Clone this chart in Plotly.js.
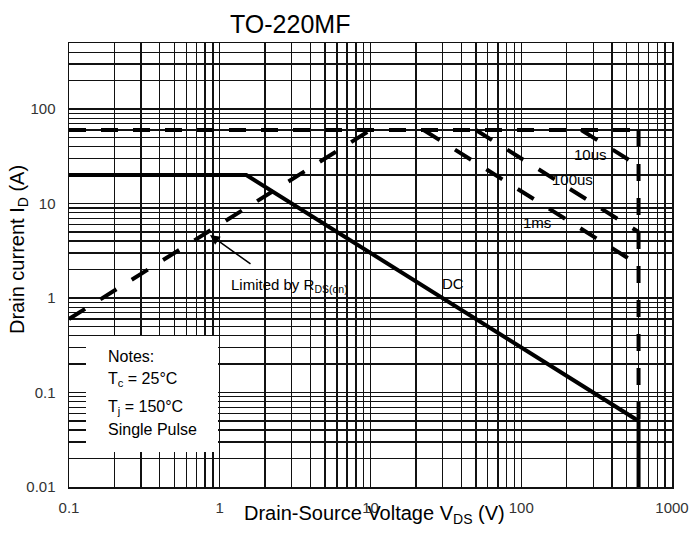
<!DOCTYPE html>
<html>
<head>
<meta charset="utf-8">
<script src="https://cdn.plot.ly/plotly-3.0.1.min.js"></script>
<style>html,body{margin:0;padding:0;background:#fff;}#chart{width:691px;height:533px;}</style>
</head>
<body>
<div id="chart"></div>
<script>
// ---- data (V in volts, I in amps) ----
const pulseLimitV = [0.1, 600];
const pulseLimitI = [60, 60];
const rdsV = [0.1, 10];
const rdsI = [0.6, 60];
const bvV = [600, 600];
const bvI = [60, 0.05];
const dcV = [0.1, 1.5, 600, 600];
const dcI = [20, 20, 0.05, 0.01];
const us10V = [250, 600];
const us10I = [60, 25];
const us100V = [50, 600];
const us100I = [60, 5];
const ms1V = [22.5, 600];
const ms1I = [60, 2.25];

const xDecades = [0.1, 1, 10, 100, 1000];
const xTickLabels = ['0.1', '1', '10', '100', '1000'];
const yDecades = [0.01, 0.1, 1, 10, 100];
const yTickLabels = ['0.01', '0.1', '1', '10', '100'];

function logGrid(decades, labels, maxVal) {
  const vals = [], text = [];
  decades.forEach((d, k) => {
    for (let m = 1; m <= 9; m++) {
      const v = d * m;
      if (v > maxVal * 1.0001) break;
      vals.push(v);
      text.push(m === 1 ? labels[k] : '');
    }
  });
  return {vals, text};
}
const xg = logGrid(xDecades, xTickLabels, 1000);
const yg = logGrid(yDecades, yTickLabels, 500);

const FONT = 'Liberation Sans, Arial, sans-serif';
function tr(x, y, w, dash) {
  return {x: x, y: y, type: 'scatter', mode: 'lines', hoverinfo: 'skip', showlegend: false,
          line: {color: '#000', width: w, dash: dash}};
}
const traces = [
  tr(pulseLimitV, pulseLimitI, 4, '17px,15px'),
  tr(rdsV, rdsI, 4, '19px,18px'),
  tr(bvV, bvI, 4, '17px,17px'),
  tr(us10V, us10I, 4, '19px,18px'),
  tr(us100V, us100I, 4, '19px,18px'),
  tr(ms1V, ms1I, 4, '19px,18px'),
  tr(dcV, dcI, 4, 'solid')
];

// pixel helpers for layout placement (plot area 69..672 x 43..487)
const PL = 69, PW = 603, PB = 487, PH = 444;
const px = p => (p - PL) / PW;
const py = p => (PB - p) / PH;

function txt(text, x, y, size, anchor, extra) {
  return Object.assign({text: text, xref: 'paper', yref: 'paper', x: px(x), y: py(y),
    xanchor: anchor || 'center', yanchor: 'middle', showarrow: false,
    font: {family: FONT, size: size, color: '#000'}}, extra || {});
}

const annotations = [
  txt('TO-220MF', 290, 24, 25),
  txt('Drain-Source Voltage V<sub>DS</sub> (V)', 374, 514, 20),
  txt('Drain current I<sub>D</sub> (A)', 18, 250, 20, 'center', {textangle: -90}),
  txt('Notes:', 106, 356, 16, 'left'),
  txt('T<sub>c</sub> = 25°C', 106, 379, 16, 'left'),
  txt('T<sub>j</sub> = 150°C', 106, 407, 16, 'left'),
  txt('Single Pulse', 106, 429, 16, 'left'),
  txt('Limited by R<sub>DS(on)</sub>', 229, 285, 15, 'left'),
  txt('DC', 453, 283, 15),
  txt('10us', 590, 154, 15),
  txt('100us', 572, 179, 15),
  txt('1ms', 537, 223, 15),
  {text: '', xref: 'paper', yref: 'paper', x: px(210), y: py(235), showarrow: true,
   ax: 42, ay: 30, arrowhead: 2, arrowsize: 1.3, arrowwidth: 1.5, arrowcolor: '#000'}
];

const axisCommon = {
  type: 'log', showgrid: true, gridcolor: '#111', gridwidth: 1.3,
  showline: true, linecolor: '#111', linewidth: 1.5, mirror: true,
  ticks: '', zeroline: false, fixedrange: true,
  tickfont: {family: FONT, size: 15, color: '#333'}
};

const layout = {
  width: 691, height: 533,
  margin: {l: 69, r: 19, t: 43, b: 46},
  paper_bgcolor: '#fff', plot_bgcolor: '#fff',
  showlegend: false,
  xaxis: Object.assign({}, axisCommon, {range: [-1, 3], tickmode: 'array', tickvals: xg.vals, ticktext: xg.text, ticklabelstandoff: 6}),
  yaxis: Object.assign({}, axisCommon, {range: [-2, Math.log10(500)], tickmode: 'array', tickvals: yg.vals, ticktext: yg.text, ticklabelstandoff: 9}),
  shapes: [{type: 'rect', xref: 'paper', yref: 'paper', x0: px(86), x1: px(218), y0: py(452), y1: py(336),
            fillcolor: '#fff', line: {width: 0}, layer: 'above'}],
  annotations: annotations
};

Plotly.newPlot('chart', traces, layout, {staticPlot: true, displayModeBar: false});
</script>
</body>
</html>
